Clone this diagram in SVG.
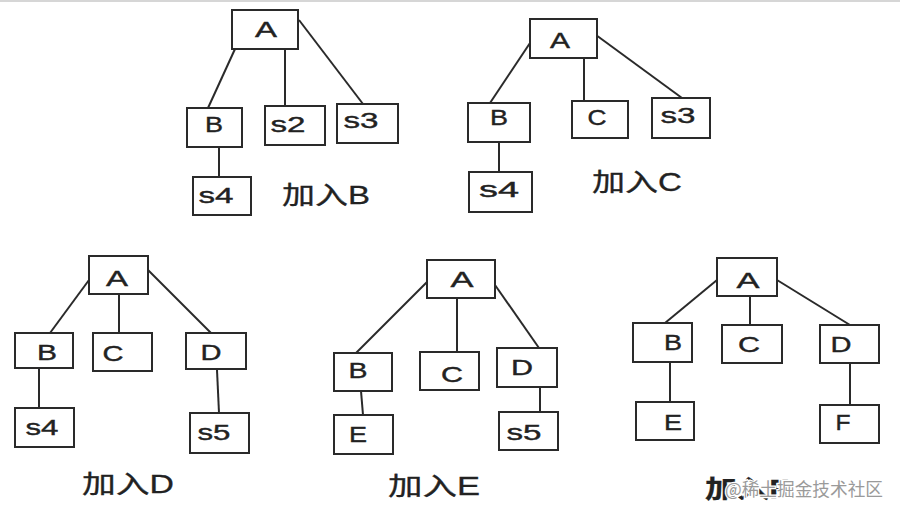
<svg xmlns="http://www.w3.org/2000/svg" width="900" height="514" viewBox="0 0 900 514">
<style>
.box{fill:#fff;stroke:#2a2a2a;stroke-width:2}
.edge{stroke:#2a2a2a;stroke-width:2;fill:none}
.t{font-family:"Liberation Sans","Noto Sans CJK SC",sans-serif;font-size:22px;fill:#222;stroke:#222;stroke-width:0.4;text-anchor:middle}
.cap{font-family:"Liberation Sans","Noto Sans CJK SC",sans-serif;font-size:25px;fill:#222;stroke:#222;stroke-width:0.3}
.wm{font-family:"Noto Sans CJK SC",sans-serif;font-size:18px;fill:#9a9a9a;stroke:#fff;stroke-width:2.5;paint-order:stroke}
</style>
<rect x="0" y="0" width="900" height="514" fill="#fff"/>
<line x1="0" y1="1" x2="900" y2="1" stroke="#d6d6d6" stroke-width="2"/>

<g id="connectors">
  <!-- tree 1 -->
  <line class="edge" x1="235" y1="49" x2="208" y2="108"/>
  <line class="edge" x1="285" y1="49" x2="285" y2="106"/>
  <line class="edge" x1="299" y1="20" x2="363" y2="104"/>
  <line class="edge" x1="219" y1="147" x2="219" y2="177"/>
  <!-- tree 2 -->
  <line class="edge" x1="530" y1="43" x2="490" y2="103"/>
  <line class="edge" x1="584" y1="58" x2="584" y2="101"/>
  <line class="edge" x1="596" y1="35" x2="682" y2="98"/>
  <line class="edge" x1="499" y1="142" x2="499" y2="172"/>
  <!-- tree 3 -->
  <line class="edge" x1="89" y1="280" x2="50" y2="333"/>
  <line class="edge" x1="119" y1="294" x2="119" y2="333"/>
  <line class="edge" x1="148" y1="270" x2="211" y2="333"/>
  <line class="edge" x1="39" y1="368" x2="39" y2="408"/>
  <line class="edge" x1="217" y1="370" x2="219" y2="413"/>
  <!-- tree 4 -->
  <line class="edge" x1="427" y1="282" x2="356" y2="353"/>
  <line class="edge" x1="457" y1="298" x2="457" y2="352"/>
  <line class="edge" x1="495" y1="285" x2="539" y2="348"/>
  <line class="edge" x1="361" y1="391" x2="363" y2="415"/>
  <line class="edge" x1="540" y1="387" x2="540" y2="412"/>
  <!-- tree 5 -->
  <line class="edge" x1="717" y1="280" x2="665" y2="323"/>
  <line class="edge" x1="750" y1="296" x2="750" y2="325"/>
  <line class="edge" x1="777" y1="280" x2="850" y2="325"/>
  <line class="edge" x1="670" y1="362" x2="670" y2="402"/>
  <line class="edge" x1="850" y1="363" x2="850" y2="405"/>
</g>

<!-- Tree 1: 加入B -->
<g id="t1-A"><rect class="box" x="232" y="10" width="66" height="39"/><text class="t" x="266" y="37" textLength="22" lengthAdjust="spacingAndGlyphs">A</text></g>
<g id="t1-B"><rect class="box" x="187" y="108" width="55" height="39"/><text class="t" x="214" y="132" textLength="18" lengthAdjust="spacingAndGlyphs">B</text></g>
<g id="t1-s2"><rect class="box" x="265" y="106" width="60" height="39"/><text class="t" x="288" y="132" textLength="35" lengthAdjust="spacingAndGlyphs">s2</text></g>
<g id="t1-s3"><rect class="box" x="337" y="104" width="61" height="39"/><text class="t" x="361" y="128" textLength="35" lengthAdjust="spacingAndGlyphs">s3</text></g>
<g id="t1-s4"><rect class="box" x="193" y="177" width="58" height="38"/><text class="t" x="216" y="203" textLength="35" lengthAdjust="spacingAndGlyphs">s4</text></g>
<g id="t1-label"><text class="cap" x="282" y="204" textLength="88" lengthAdjust="spacingAndGlyphs">加入B</text></g>

<!-- Tree 2: 加入C -->
<g id="t2-A"><rect class="box" x="530" y="19" width="67" height="39"/><text class="t" x="560" y="48" textLength="20" lengthAdjust="spacingAndGlyphs">A</text></g>
<g id="t2-B"><rect class="box" x="468" y="103" width="62" height="39"/><text class="t" x="499" y="125" textLength="18" lengthAdjust="spacingAndGlyphs">B</text></g>
<g id="t2-C"><rect class="box" x="572" y="101" width="56" height="37"/><text class="t" x="597" y="125" textLength="19" lengthAdjust="spacingAndGlyphs">C</text></g>
<g id="t2-s3"><rect class="box" x="652" y="98" width="58" height="40"/><text class="t" x="678" y="123" textLength="35" lengthAdjust="spacingAndGlyphs">s3</text></g>
<g id="t2-s4"><rect class="box" x="469" y="172" width="63" height="40"/><text class="t" x="499" y="197" textLength="40" lengthAdjust="spacingAndGlyphs">s4</text></g>
<g id="t2-label"><text class="cap" x="592" y="191" textLength="90" lengthAdjust="spacingAndGlyphs">加入C</text></g>

<!-- Tree 3: 加入D -->
<g id="t3-A"><rect class="box" x="89" y="256" width="59" height="38"/><text class="t" x="117" y="286" textLength="22" lengthAdjust="spacingAndGlyphs">A</text></g>
<g id="t3-B"><rect class="box" x="15" y="333" width="58" height="35"/><text class="t" x="47" y="360" textLength="20" lengthAdjust="spacingAndGlyphs">B</text></g>
<g id="t3-C"><rect class="box" x="93" y="333" width="59" height="38"/><text class="t" x="113" y="361" textLength="21" lengthAdjust="spacingAndGlyphs">C</text></g>
<g id="t3-D"><rect class="box" x="186" y="333" width="60" height="36"/><text class="t" x="211" y="360" textLength="21" lengthAdjust="spacingAndGlyphs">D</text></g>
<g id="t3-s4"><rect class="box" x="15" y="408" width="59" height="39"/><text class="t" x="42" y="435" textLength="33" lengthAdjust="spacingAndGlyphs">s4</text></g>
<g id="t3-s5"><rect class="box" x="190" y="413" width="59" height="40"/><text class="t" x="214" y="440" textLength="33" lengthAdjust="spacingAndGlyphs">s5</text></g>
<g id="t3-label"><text class="cap" x="82" y="493" textLength="92" lengthAdjust="spacingAndGlyphs">加入D</text></g>

<!-- Tree 4: 加入E -->
<g id="t4-A"><rect class="box" x="427" y="260" width="68" height="38"/><text class="t" x="462" y="287" textLength="23" lengthAdjust="spacingAndGlyphs">A</text></g>
<g id="t4-B"><rect class="box" x="334" y="353" width="58" height="38"/><text class="t" x="358" y="378" textLength="19" lengthAdjust="spacingAndGlyphs">B</text></g>
<g id="t4-C"><rect class="box" x="420" y="352" width="59" height="38"/><text class="t" x="452" y="382" textLength="22" lengthAdjust="spacingAndGlyphs">C</text></g>
<g id="t4-D"><rect class="box" x="497" y="348" width="60" height="39"/><text class="t" x="522" y="375" textLength="22" lengthAdjust="spacingAndGlyphs">D</text></g>
<g id="t4-E"><rect class="box" x="334" y="415" width="59" height="39"/><text class="t" x="358" y="442" textLength="18" lengthAdjust="spacingAndGlyphs">E</text></g>
<g id="t4-s5"><rect class="box" x="499" y="412" width="59" height="38"/><text class="t" x="524" y="440" textLength="35" lengthAdjust="spacingAndGlyphs">s5</text></g>
<g id="t4-label"><text class="cap" x="388" y="495" textLength="92" lengthAdjust="spacingAndGlyphs">加入E</text></g>

<!-- Tree 5: 加入F -->
<g id="t5-A"><rect class="box" x="717" y="258" width="60" height="38"/><text class="t" x="748" y="288" textLength="23" lengthAdjust="spacingAndGlyphs">A</text></g>
<g id="t5-B"><rect class="box" x="633" y="323" width="59" height="39"/><text class="t" x="673" y="350" textLength="18" lengthAdjust="spacingAndGlyphs">B</text></g>
<g id="t5-C"><rect class="box" x="722" y="325" width="60" height="38"/><text class="t" x="749" y="352" textLength="22" lengthAdjust="spacingAndGlyphs">C</text></g>
<g id="t5-D"><rect class="box" x="820" y="325" width="59" height="38"/><text class="t" x="841" y="352" textLength="21" lengthAdjust="spacingAndGlyphs">D</text></g>
<g id="t5-E"><rect class="box" x="636" y="402" width="58" height="38"/><text class="t" x="673" y="430" textLength="18" lengthAdjust="spacingAndGlyphs">E</text></g>
<g id="t5-F"><rect class="box" x="820" y="405" width="59" height="38"/><text class="t" x="843" y="430" textLength="15" lengthAdjust="spacingAndGlyphs">F</text></g>
<g id="t5-label"><text class="cap" x="705" y="498" textLength="84" lengthAdjust="spacingAndGlyphs" style="font-weight:bold">加入F</text></g>
<g id="watermark"><text class="wm" x="725" y="496" textLength="158" lengthAdjust="spacingAndGlyphs">@稀土掘金技术社区</text></g>
</svg>
